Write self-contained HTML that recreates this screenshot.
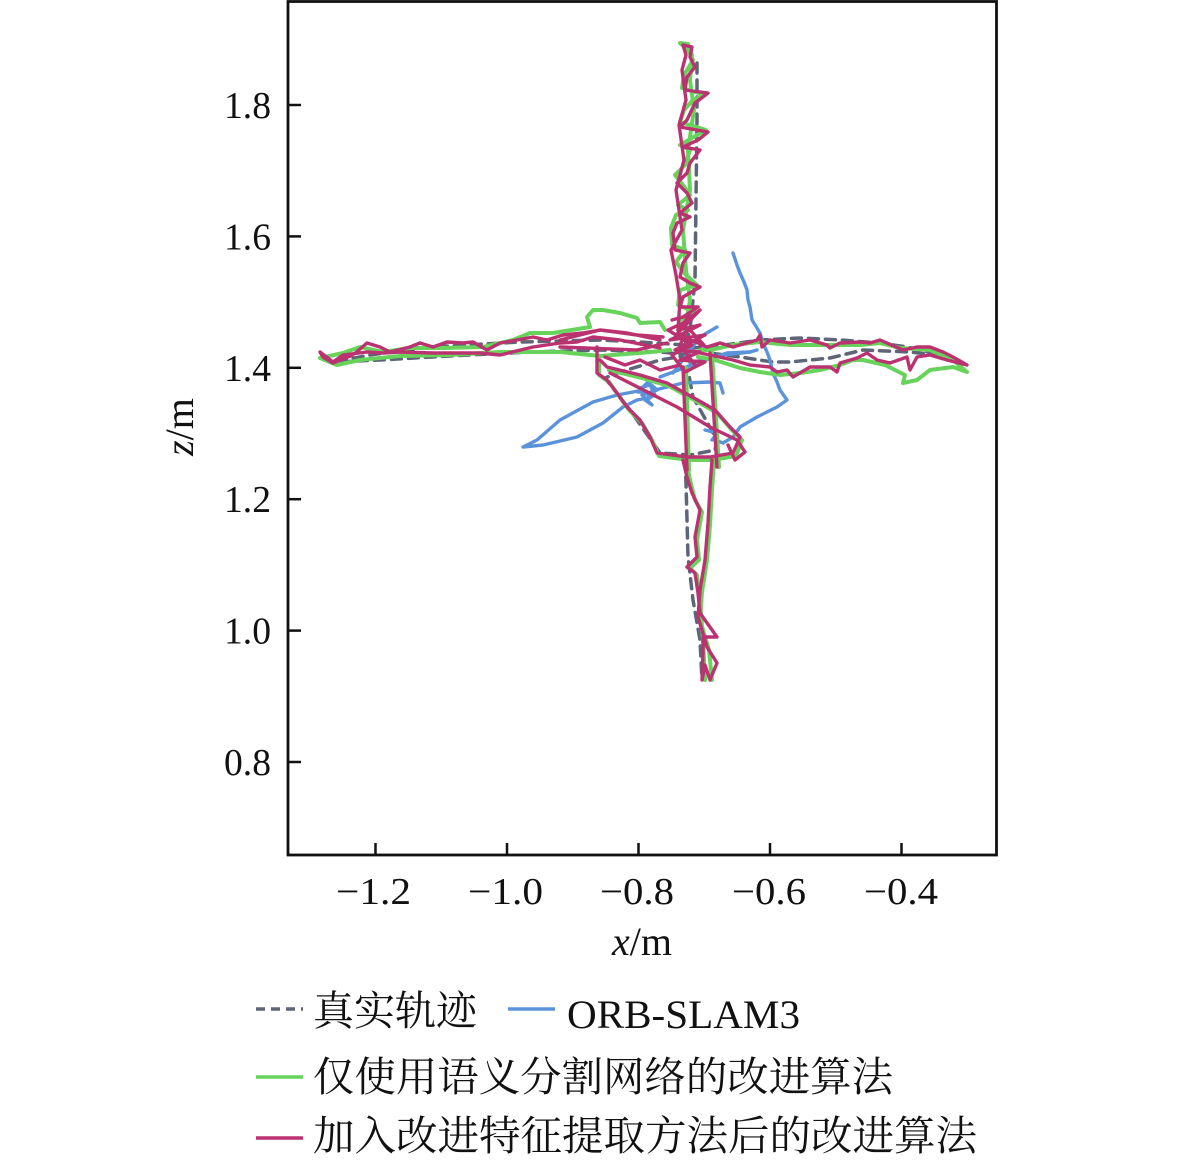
<!DOCTYPE html>
<html>
<head>
<meta charset="utf-8">
<style>
html,body{margin:0;padding:0;background:#fff;}
svg{display:block;}
text{font-family:"Liberation Serif","Noto Serif CJK SC",serif;fill:#111;}
</style>
</head>
<body>
<svg width="1181" height="1162" viewBox="0 0 1181 1162" xmlns="http://www.w3.org/2000/svg">
<rect x="0" y="0" width="1181" height="1162" fill="#fff"/>

<g fill="none" stroke-linejoin="round" stroke-linecap="round">
<!-- ground truth dashed -->
<g stroke="#5d6577" stroke-width="3.5" stroke-dasharray="10 7">
<path d="M697,63 L697,120 L696,200 L695,280 L690,330 L685,345"/>
<path d="M685,345 L640,342 L600,340 L520,342 L430,347 L370,355 L335,362 L380,360 L450,356 L530,352 L600,350 L660,352 L690,355"/>
<path d="M690,348 L710,347 L760,340 L800,338 L840,340 L880,343 L907,347 L950,357 L910,352 L863,350 L830,358 L790,362 L773,362 L740,357 L710,353"/>
<path d="M690,355 L660,360 L620,372 L605,378 L630,410 L660,453 L690,455 L715,450 L717,440 L693,397 L688,370"/>
<path d="M685,460 L686,483 L688,557 L693,600 L700,640 L702,680"/>
</g>

<!-- blue ORB-SLAM3 -->
<g stroke="#5b93db" stroke-width="3.4">
<path d="M733,253 L737,265 L740,273 L744,282 L747,290 L748,300 L750,307 L752,320 L757,328 L760,333 L763,343 L767,352 L770,360 L773,373 L777,382 L780,390 L787,400 L777,407 L757,417 L740,427 L733,437 L723,443 L715,440"/>
<path d="M643,390 L633,392 L617,395 L593,402 L560,420 L537,440 L523,447 L543,445 L577,437 L603,423 L623,407 L637,400 L648,398"/>
<path d="M640,388 L650,385 L655,395 L645,400 L652,405 L642,395 L657,390 L648,382 L638,392 L646,392 L650,398"/>
<path d="M655,390 L683,383 L710,382 L720,383 L723,393"/>
<path d="M660,377 L697,363 L727,353 L750,352 L757,350"/>
<path d="M673,373 L700,337 L717,327"/>
<path d="M690,363 L723,355 L750,352"/>
<path d="M705,430 L717,433 L712,440"/>
</g>

<!-- green -->
<g stroke="#68d35b" stroke-width="4">
<path d="M680,320 L695,312 L678,305 L680,290 L697,285 L686,275 L676,262 L685,250 L672,245 L671,228 L676,215 L688,210 L678,205 L690,195 L683,185 L675,175 L685,165 L690,150 L680,145 L697,135 L706,130 L680,122 L684,110 L693,100 L705,95 L682,88 L684,75 L693,60 L688,50 L680,43 L688,44 L692,55 L690,80 L694,110 L688,150 L690,190 L683,230 L686,270 L690,300 L685,330"/>
<path d="M665,330 L660,322 L640,323 L637,318 L620,313 L603,310 L593,310 L587,317 L590,327 L553,333 L530,333 L513,340 L483,347 L443,348 L410,348 L383,352 L360,347 L343,353 L320,358 L337,365 L360,360 L400,356 L450,355 L500,352 L560,352 L600,356 L640,353 L670,350"/>
<path d="M700,350 L710,350 L733,345 L760,342 L790,345 L830,345 L860,345 L880,343 L900,348 L930,350 L953,360 L967,372 L953,367 L930,370 L917,380 L903,383 L905,375 L885,365 L863,360 L853,360 L840,365 L820,370 L800,373 L780,375 L760,372 L740,368 L715,360 L698,357"/>
<path d="M599,360 L599,375 L609,382 L619,396 L629,410 L642,423 L652,440 L659,456 L689,460 L712,460 L736,456 L742,440 L732,430 L717,413 L705,406 L669,386 L642,378 L609,370"/>
<path d="M686,460 L690,480 L695,500 L702,512 L697,540 L699,560 L690,568 L697,575 L700,600 L703,640 L705,680"/>
<path d="M714,460 L712,490 L710,525 L707,560 L702,592 L700,620 L709,650 L712,680"/>
<path d="M686,368 L689,470 M712,353 L719,467"/>
</g>

<!-- magenta -->
<g stroke="#bb3270" stroke-width="3.4">
<path d="M683,317 L698,307 L680,307 L683,297 L700,287 L690,283 L680,277 L683,263 L690,253 L675,250 L673,233 L677,223 L690,217 L680,213 L692,203 L687,193 L677,183 L687,173 L690,163 L700,150 L683,147 L698,140 L708,132 L680,127 L687,120 L695,103 L708,93 L685,90 L687,77 L695,67 L690,57 L692,47 L683,45 L686,55 L682,70 L686,100 L679,125 L684,160 L676,190 L682,230 L671,250 L676,275 L680,300 L678,330"/>
<path d="M660,340 L627,333 L600,330 L583,333 L563,335 L547,340 L533,337 L517,340 L500,343 L487,350 L473,342 L463,343 L447,342 L433,347 L420,343 L410,347 L390,352 L380,347 L367,343 L353,355 L340,360 L333,363 L323,357 L320,352 L333,362 L343,355 L367,352 L383,353 L400,352 L433,353 L480,353 L500,355 L533,347 L560,343 L577,342 L593,337 L620,340 L660,348"/>
<path d="M560,340 L600,330 L637,335 L663,337 M560,347 L637,350 L667,343"/>
<path d="M700,345 L707,347 L720,343 L733,347 L757,340 L760,335 L762,347 L770,340 L790,343 L810,340 L827,345 L830,348 L840,343 L860,342 L870,343 L880,340 L903,350 L917,347 L930,347 L943,352 L953,357 L967,365 L947,360 L930,355 L917,357 L910,370 L907,357 L890,363 L877,360 L867,353 L857,358 L840,363 L837,372 L830,367 L810,367 L793,377 L787,370 L777,372 L770,367 L750,365 L733,360 L710,355 L695,352"/>
<path d="M597,347 L597,357 L597,373 L607,380 L617,393 L627,407 L640,420 L650,437 L657,453 L687,457 L710,457 L733,453 L740,437 L730,427 L715,410 L703,403 L667,383 L640,375 L607,367 L600,360"/>
<path d="M610,373 L677,407 L710,427 L737,440 L745,452 L735,460 L728,445"/>
<path d="M683,367 L687,470 M710,353 L717,467"/>
<path d="M683,460 L687,477 L692,493 L700,510 L695,537 L697,557 L687,567 L695,573 L698,593 L700,613 L717,637 L703,637 L703,653 L702,680 L705,665 L710,680 L717,663 L707,647 L698,617 L700,590 L705,560 L708,523 L710,487 L712,460"/>
<path d="M672,320 L690,315 L678,330 L700,325 L670,340 L705,335 L675,350 L700,352 L680,360 L705,362 L685,372 L672,355 L692,345 L668,330 L685,322 L700,310 L676,335 L704,345 L688,328 L680,345 L695,365"/>
<path d="M605,357 L625,365 L640,360 L660,370 L680,365"/>
</g>
</g>

<!-- axes frame -->
<rect x="288" y="1.5" width="708.5" height="853.5" fill="none" stroke="#111" stroke-width="2.8"/>
<g stroke="#111" stroke-width="2.5">
<line x1="375.5" y1="855" x2="375.5" y2="843"/>
<line x1="507" y1="855" x2="507" y2="843"/>
<line x1="638.5" y1="855" x2="638.5" y2="843"/>
<line x1="770" y1="855" x2="770" y2="843"/>
<line x1="901.5" y1="855" x2="901.5" y2="843"/>
<line x1="288" y1="105" x2="301" y2="105"/>
<line x1="288" y1="236.4" x2="301" y2="236.4"/>
<line x1="288" y1="367.8" x2="301" y2="367.8"/>
<line x1="288" y1="499.2" x2="301" y2="499.2"/>
<line x1="288" y1="630.6" x2="301" y2="630.6"/>
<line x1="288" y1="762" x2="301" y2="762"/>
</g>

<!-- tick labels -->
<g font-size="38" text-anchor="end">
<text x="271" y="118" textLength="47" lengthAdjust="spacingAndGlyphs">1.8</text>
<text x="271" y="249.4" textLength="47" lengthAdjust="spacingAndGlyphs">1.6</text>
<text x="271" y="380.8" textLength="47" lengthAdjust="spacingAndGlyphs">1.4</text>
<text x="271" y="512.2" textLength="47" lengthAdjust="spacingAndGlyphs">1.2</text>
<text x="271" y="643.6" textLength="47" lengthAdjust="spacingAndGlyphs">1.0</text>
<text x="271" y="775" textLength="47" lengthAdjust="spacingAndGlyphs">0.8</text>
</g>
<g font-size="38">
<text x="336" y="904" textLength="75" lengthAdjust="spacingAndGlyphs">−1.2</text>
<text x="468" y="904" textLength="75" lengthAdjust="spacingAndGlyphs">−1.0</text>
<text x="600" y="904" textLength="74" lengthAdjust="spacingAndGlyphs">−0.8</text>
<text x="732" y="904" textLength="74" lengthAdjust="spacingAndGlyphs">−0.6</text>
<text x="864" y="904" textLength="74" lengthAdjust="spacingAndGlyphs">−0.4</text>
</g>

<!-- axis labels -->
<text x="642" y="955" font-size="40" text-anchor="middle"><tspan font-style="italic">x</tspan>/m</text>
<text transform="translate(193,427) rotate(-90)" font-size="40" text-anchor="middle"><tspan font-style="italic">z</tspan>/m</text>

<!-- legend -->
<line x1="256" y1="1009" x2="303" y2="1009" stroke="#5d6577" stroke-width="3.5" stroke-dasharray="9 6"/>
<text x="313" y="1025" font-size="41" textLength="164" lengthAdjust="spacingAndGlyphs">真实轨迹</text>
<line x1="508" y1="1009" x2="555" y2="1009" stroke="#5b93db" stroke-width="3.5"/>
<text x="567" y="1028" font-size="40" textLength="233" lengthAdjust="spacingAndGlyphs">ORB-SLAM3</text>
<line x1="256" y1="1077" x2="303" y2="1077" stroke="#68d35b" stroke-width="3.5"/>
<text x="313" y="1091" font-size="41" textLength="580" lengthAdjust="spacingAndGlyphs">仅使用语义分割网络的改进算法</text>
<line x1="256" y1="1138" x2="303" y2="1138" stroke="#bb3270" stroke-width="3.5"/>
<text x="313" y="1150" font-size="41" textLength="664" lengthAdjust="spacingAndGlyphs">加入改进特征提取方法后的改进算法</text>
</svg>
</body>
</html>
